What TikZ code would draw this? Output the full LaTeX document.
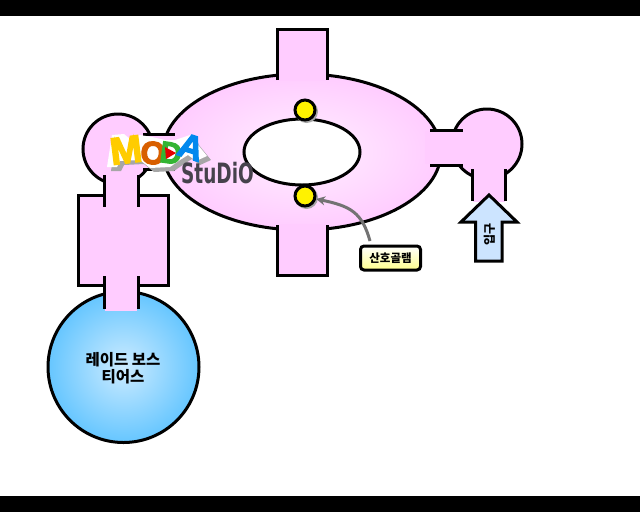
\documentclass[tikz,border=0pt]{standalone}
\usepackage{fontspec}
\setmainfont{Noto Sans CJK KR}
\newfontfamily\logofont[FakeBold=4]{Liberation Sans Bold}
\newfontfamily\studiofont{DejaVu Sans}
\usetikzlibrary{arrows.meta}
\definecolor{roompink}{HTML}{FFCCFF}
\definecolor{bosscore}{HTML}{CCEBFF}
\definecolor{bossedge}{HTML}{66C6FF}
\definecolor{arrowblue}{HTML}{CCE4FF}
\definecolor{logogray}{HTML}{46424C}
\definecolor{logoyellow}{HTML}{FFCC00}
\definecolor{logoorange}{HTML}{D85F00}
\definecolor{logogreen}{HTML}{33B533}
\definecolor{logoblue}{HTML}{0088EE}
\tikzset{
 x=1pt,y=-1pt,
 wall/.style={line width=3pt,line cap=butt},
 golem/.style={circle,draw=black,line width=3pt,fill=yellow,minimum size=20pt,inner sep=0pt},
 logoletter/.style={font=\logofont\fontsize{#1}{#1}\selectfont,inner sep=0pt},
}
\begin{document}
\begin{tikzpicture}
\useasboundingbox (0,0) rectangle (640,512);
\fill[white] (0,0) rectangle (640,512);
\fill[black] (0,0) rectangle (640,16);
\fill[black] (0,496) rectangle (640,512);
% main ring
\path[shade,shading=radial,inner color=white!70!roompink,outer color=roompink] (302,152) ellipse [x radius=139,y radius=78];
\draw[wall] (302,152) ellipse [x radius=139,y radius=78];
\draw[wall,fill=white] (302,152) ellipse [x radius=58,y radius=33];
% left chamber
\draw[wall,fill=roompink] (118,149) circle [radius=35];
% right chamber
\draw[wall,fill=roompink] (487,144) circle [radius=35];
% left link
\fill[roompink] (140,135) rectangle (180,168);
\draw[wall] (143,134) -- (175,134);
\draw[wall] (143,169) -- (175,169);
% right link
\fill[roompink] (425,131) rectangle (470,164);
\draw[wall] (430,130) -- (463,130);
\draw[wall] (430,165) -- (463,165);
% top and bottom stubs
\fill[roompink] (277,29) rectangle (327,81);
\draw[wall] (277.5,80) -- (277.5,29.5) -- (327,29.5) -- (327,80);
\fill[roompink] (277,224) rectangle (327,276);
\draw[wall] (277.5,225) -- (277.5,275.5) -- (327,275.5) -- (327,225);
% left room
\draw[wall,fill=roompink] (78.5,195.5) rectangle (168.5,285.5);
% boss room
\path[shade,shading=radial,inner color=bosscore,outer color=bossedge] (123.5,367) circle [radius=75.5];
\draw[wall] (123.5,367) circle [radius=75.5];
\node[font=\bfseries\fontsize{15.5}{17}\selectfont,align=center,inner sep=0pt] (boss) at (123,368) {레이드 보스\\티어스};
% vertical corridors
\fill[roompink] (104,170) rectangle (138,208);
\draw[wall] (104,175) -- (104,207);
\draw[wall] (138.5,175) -- (138.5,207);
\fill[roompink] (105,275) rectangle (137,311);
\draw[wall] (104,276) -- (104,309);
\draw[wall] (138.5,276) -- (138.5,309);
% right corridor
\fill[roompink] (473,160) rectangle (505,202);
\draw[wall] (472,169) -- (472,201);
\draw[wall] (505.5,169) -- (505.5,201);
% golems
\fill[gray!70] (306.5,111.5) circle [radius=11.5];
\fill[gray!70] (306.5,197.5) circle [radius=11.5];
\node[golem] (g1) at (305,110) {};
\node[golem] (g2) at (305,196) {};
% label
\node[draw=black,line width=3pt,rounded corners=3.5pt,top color=white,bottom color=yellow!45,minimum width=60pt,minimum height=24pt,inner sep=0pt,font=\bfseries\fontsize{11.5}{12}\selectfont] (lab) at (390.5,258) {산호골램};
\coordinate (labtail) at (370,241);
\draw[line width=3pt,draw=gray!90!black,-{Stealth[length=9pt,width=9pt]}] (labtail) .. controls (362,212) and (350,206) .. (g2.-15);
% entrance arrow
\draw[wall,line join=miter,fill=arrowblue] (489,195) -- (517,222) -- (502,222) -- (502,261) -- (475.5,261) -- (475.5,222) -- (461,222) -- cycle;
\node[rotate=90,font=\bfseries\fontsize{12}{12}\selectfont,inner sep=0pt] (entry) at (489.5,234) {입구};
% logo
\fill[gray!70,shift={(4,4)}] (107,167) -- (112,135) -- (124,134) -- (130,139) -- (140,135) -- (152,137) -- (165,140) -- (175,140) -- (190,135) -- (207,156) -- (196,161) -- (188,155) -- (180,160) -- (170,167) -- (150,168) -- (140,160) -- (120,161) -- (117,167) -- cycle;
\fill[white] (107,167) -- (112,135) -- (124,134) -- (130,139) -- (140,135) -- (152,137) -- (165,140) -- (175,140) -- (190,135) -- (207,156) -- (196,161) -- (188,155) -- (180,160) -- (170,167) -- (150,168) -- (140,160) -- (120,161) -- (117,167) -- cycle;
\node[logoletter=38,text=logoyellow,rotate=7] (lm) at (126,150) {M};
\node[logoletter=32,text=logoorange,rotate=-5] (lo) at (153,153) {O};
\node[logoletter=30,text=logogreen,rotate=-8] (ld) at (171,153) {D};
\node[logoletter=34,text=logoblue,rotate=-18] (la) at (191,147) {A};
\fill[red!90!black] (165,147) -- (176,153) -- (166,159) -- cycle;
\node[font=\studiofont\fontsize{28}{28}\selectfont\bfseries,text=logogray,inner sep=0pt,xscale=.66] (studio) at (217.5,173) {StuDiO};
\end{tikzpicture}
\end{document}
